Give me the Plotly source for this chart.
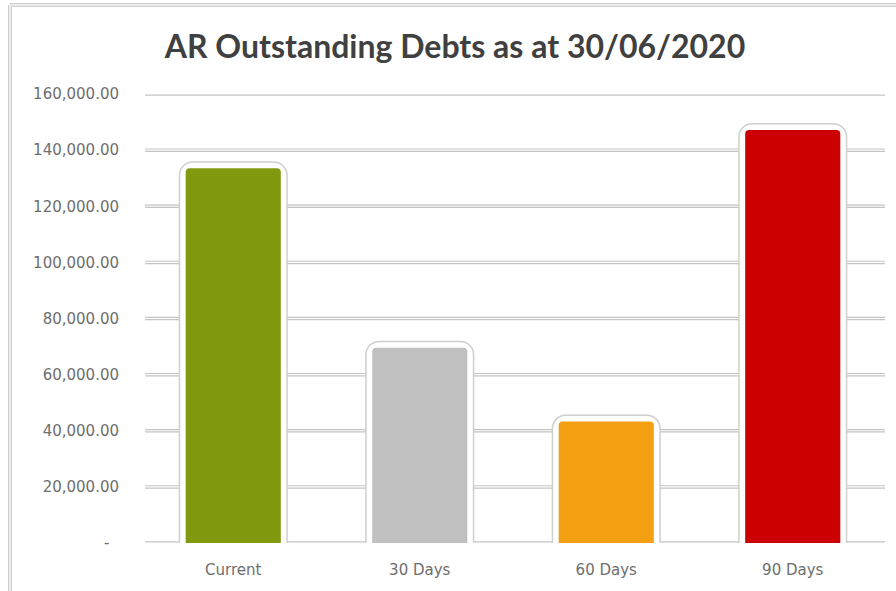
import plotly.graph_objects as go

# Ageing buckets and outstanding balances
categories = ["Current", "30 Days", "60 Days", "90 Days"]
balances = [133500, 69600, 43300, 147200]
bar_colors = ["#809a10", "#c0c0c0", "#f5a012", "#cc0000"]

tick_values = [0, 20000, 40000, 60000, 80000, 100000, 120000, 140000, 160000]
tick_labels = ["-  ", "20,000.00", "40,000.00", "60,000.00", "80,000.00",
               "100,000.00", "120,000.00", "140,000.00", "160,000.00"]

W, H = 896, 591
ML, MR, MT, MB = 140, 10, 94, 48
PW, PH = W - ML - MR, H - MT - MB

def px_x(px):
    return (px - ML) / PW

def px_y(py):
    return (H - MB - py) / PH

BAR_W = 0.51
RADIUS = 7

fig = go.Figure()

# Soft grey halo, white rim, then the coloured bar itself
fig.add_trace(go.Bar(x=categories, y=balances, width=BAR_W,
                     marker=dict(color="#c8c8c8", cornerradius=RADIUS,
                                 line=dict(color="#cfcfcf", width=14)),
                     hoverinfo="skip", showlegend=False))
fig.add_trace(go.Bar(x=categories, y=balances, width=BAR_W,
                     marker=dict(color="white", cornerradius=RADIUS,
                                 line=dict(color="white", width=11)),
                     hoverinfo="skip", showlegend=False))
fig.add_trace(go.Bar(x=categories, y=balances, width=BAR_W,
                     marker=dict(color=bar_colors, cornerradius=4,
                                 line=dict(width=0)),
                     showlegend=False))

shapes = []
# Double-stroke gridlines
for v in tick_values:
    for col, wd in (("#c4c4c4", 3.5), ("#ffffff", 1.2)):
        shapes.append(dict(type="line", xref="paper", yref="y",
                           x0=px_x(145), x1=px_x(885), y0=v, y1=v,
                           line=dict(color=col, width=wd), layer="below"))

# Chart-area frame along the top and left
for col, wd in (("#cfcfcf", 4), ("#f4f4f4", 1.5)):
    shapes.append(dict(type="line", xref="paper", yref="paper",
                       x0=px_x(10), x1=px_x(896), y0=px_y(5), y1=px_y(5),
                       line=dict(color=col, width=wd)))
    shapes.append(dict(type="line", xref="paper", yref="paper",
                       x0=px_x(10), x1=px_x(10), y0=px_y(5), y1=px_y(591),
                       line=dict(color=col, width=wd)))

fig.update_layout(
    width=W, height=H,
    margin=dict(l=ML, r=MR, t=MT, b=MB),
    paper_bgcolor="white", plot_bgcolor="white",
    barmode="overlay",
    title=dict(text="<b>AR Outstanding Debts as at 30/06/2020</b>",
               x=455 / W, xref="container", xanchor="center",
               y=1 - 47 / H, yref="container", yanchor="middle",
               font=dict(family="Lato", size=32, color="#404040")),
    xaxis=dict(range=[-0.5, 3.5], showgrid=False, zeroline=False,
               showline=False, ticks="", ticklabelstandoff=16,
               tickfont=dict(family="DejaVu Sans", size=15, color="#6e6e6e")),
    yaxis=dict(range=[0, 160000], tickvals=tick_values, ticktext=tick_labels,
               showgrid=False, zeroline=False, showline=False, ticks="",
               ticklabelstandoff=20,
               tickfont=dict(family="DejaVu Sans", size=15, color="#6e6e6e")),
    shapes=shapes,
)

fig.write_html("out.html")
